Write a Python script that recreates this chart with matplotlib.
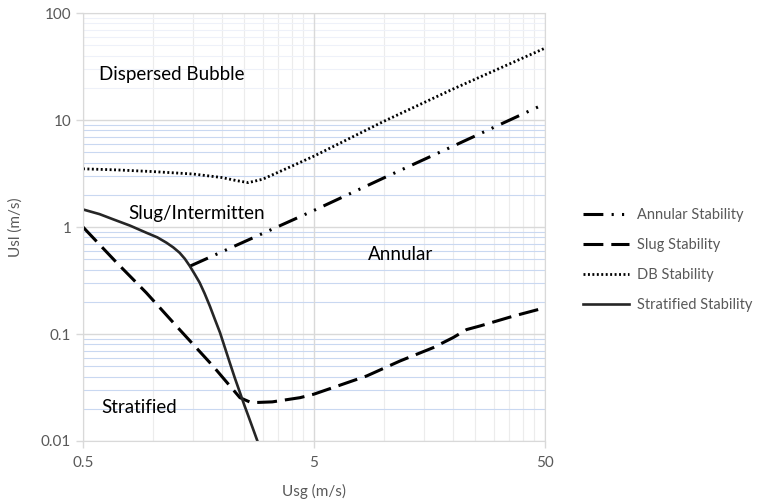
import numpy as np
import matplotlib.pyplot as plt

plt.rcParams['font.family'] = ['Lato', 'DejaVu Sans']

# Stability boundaries, Usg (m/s) vs Usl (m/s)
annular_usg = [1.45, 5.0, 10.0, 20.0, 50.0]
annular_usl = [0.43, 1.43, 2.87, 5.7, 14.2]

slug_usg = [0.5, 0.7, 0.94, 1.31, 1.83, 2.39, 2.68, 3.3, 4.35, 5.0, 8.45, 11.8,
            16.4, 20.0, 22.9, 26.2, 36.5, 50.0]
slug_usl = [1.0, 0.464, 0.243, 0.11, 0.05, 0.0254, 0.0228, 0.0232, 0.0254, 0.0274,
            0.0405, 0.056, 0.0745, 0.0925, 0.11, 0.119, 0.147, 0.176]

db_usg = [0.5, 0.7, 1.0, 1.5, 2.0, 2.3, 2.6, 3.0, 4.0, 5.0, 10.0, 20.0, 50.0]
db_usl = [3.5, 3.42, 3.3, 3.13, 2.9, 2.72, 2.6, 2.8, 3.7, 4.6, 9.7, 19.5, 47.0]

strat_usg = [0.5, 0.59, 0.676, 0.8, 0.94, 1.05, 1.15, 1.23, 1.31, 1.38, 1.45, 1.52, 1.6,
             1.68, 1.77, 1.86, 1.96, 2.06, 2.16, 2.27, 2.39, 2.5, 2.6, 2.73, 2.86]
strat_usl = [1.46, 1.32, 1.18, 1.03, 0.885, 0.8, 0.713, 0.645, 0.575, 0.505, 0.432, 0.365,
             0.302, 0.24, 0.183, 0.138, 0.103, 0.074, 0.054, 0.039, 0.0284, 0.0215,
             0.0171, 0.0128, 0.0097]

region_names = ['Dispersed Bubble', 'Slug/Intermitten', 'Annular', 'Stratified']
region_x = [1.21, 1.56, 11.9, 0.88]
region_y = [26.9, 1.35, 0.548, 0.0204]

x_ticks = [0.5, 5, 50]
y_ticks = [0.01, 0.1, 1, 10, 100]

fig = plt.figure(figsize=(7.57, 5.03), dpi=100)
ax = fig.add_axes([0.1096, 0.1233, 0.6103, 0.8507])
ax.set_xscale('log')
ax.set_yscale('log')
ax.set_xlim(0.5, 50)
ax.set_ylim(0.01, 100)

# gridlines: minor verticals at 0.5 steps per decade, minor horizontals light blue
for base in (0.5, 5):
    for k in range(2, 10):
        ax.axvline(base * k, color='#ececec', lw=0.8, zorder=0)
for base in (0.01, 0.1, 1, 10):
    col = '#eef1f9' if base == 10 else '#c9d8f1'
    for k in range(2, 10):
        ax.axhline(base * k, color=col, lw=0.8, zorder=0)
for v in x_ticks:
    ax.axvline(v, color='#d9d9d9', lw=1.0, zorder=0.5)
for v in y_ticks:
    ax.axhline(v, color='#d9d9d9', lw=1.0, zorder=0.5)

ax.plot(annular_usg, annular_usl, color='black', lw=2.2,
        dashes=(6.5, 2.7, 0.7, 2.7, 0.7, 2.7), label='Annular Stability')
ax.plot(slug_usg, slug_usl, color='black', lw=2.2, dashes=(6.5, 2.6), label='Slug Stability')
ax.plot(db_usg, db_usl, color='black', lw=2.0, dashes=(0.7, 0.9), label='DB Stability')
ax.plot(strat_usg, strat_usl, color='#262626', lw=1.9, label='Stratified Stability')

for name, x, y in zip(region_names, region_x, region_y):
    ax.text(x, y, name, fontsize=13.5, ha='center', va='center', color='black')

for s in ax.spines.values():
    s.set_color('#d9d9d9')
ax.set_xticks(x_ticks)
ax.set_xticklabels(['0.5', '5', '50'])
ax.set_yticks(y_ticks)
ax.set_yticklabels(['0.01', '0.1', '1', '10', '100'])
ax.minorticks_off()
ax.tick_params(colors='#d9d9d9', labelcolor='#595959', labelsize=11, length=5, width=1)
ax.tick_params(axis='x', pad=6)
ax.set_xlabel('Usg (m/s)', fontsize=11, color='#595959', labelpad=10)
ax.set_ylabel('Usl (m/s)', fontsize=11, color='#595959', labelpad=13)

ax.legend(loc='center left', bbox_to_anchor=(1.054, 0.423), frameon=False,
          fontsize=10.5, labelcolor='#595959', handlelength=3.15, handletextpad=0.55,
          labelspacing=1.1)

fig.savefig('out.png', dpi=100)
